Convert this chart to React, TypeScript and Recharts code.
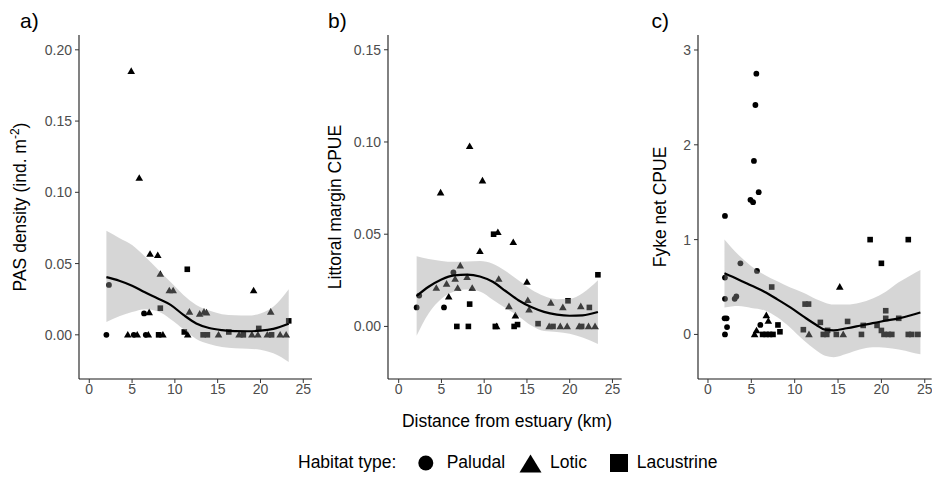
import React from 'react'
import { ComposedChart, Scatter, Area, Line, XAxis, YAxis } from 'recharts'

type Pt = [number, number]

const FONT = '"Liberation Sans", Arial, Helvetica, sans-serif'

// distance ticks shared by all panels
const xTicks = [0, 5, 10, 15, 20, 25]

// a) PAS density (ind. m-2)
const aPaludal: Pt[] = [[2.0, 0], [2.3, 0.035], [5.2, 0], [6.4, 0.015], [6.6, 0]]
const aLotic: Pt[] = [
  [4.5, 0], [4.9, 0.185], [5.6, 0], [5.84, 0.11], [6.9, 0], [7.0, 0.0157], [7.1, 0.0567],
  [8.0, 0.0558], [8.3, 0.0426], [8.6, 0], [9.35, 0.031], [9.8, 0.031], [11.5, 0], [11.7, 0.016],
  [12.9, 0.0146], [13.4, 0.016], [13.7, 0.0155], [15.1, 0], [17.5, 0], [19.0, 0], [19.2, 0.031],
  [19.7, 0], [20.8, 0], [21.2, 0.016], [22.3, 0], [23.0, 0],
]
const aLacustrine: Pt[] = [
  [8.1, 0], [8.3, 0.0187], [11.1, 0.002], [11.45, 0.046], [13.3, 0], [13.8, 0], [16.3, 0.002],
  [18.0, 0], [19.8, 0.0045], [21.3, 0], [23.3, 0.0098],
]
const aSmoothX = [2, 3.5, 5, 6.5, 8, 9.5, 11, 12.5, 14, 15.5, 17, 18.5, 20, 21.5, 23.3]
const aFit = [0.0405, 0.038, 0.0345, 0.0298, 0.0255, 0.021, 0.014, 0.008, 0.0048, 0.0033, 0.0026, 0.0025, 0.0029, 0.0042, 0.0078]
const aLow = [0.009, 0.013, 0.016, 0.018, 0.0165, 0.011, 0.004, -0.003, -0.0065, -0.0085, -0.0095, -0.0098, -0.0105, -0.013, -0.019]
const aHigh = [0.073, 0.068, 0.063, 0.055, 0.046, 0.037, 0.028, 0.021, 0.017, 0.0145, 0.0137, 0.0135, 0.015, 0.0197, 0.032]
const aYTicks = [0, 0.05, 0.1, 0.15, 0.2]

// b) Littoral margin CPUE
const bPaludal: Pt[] = [[2.1, 0.0103], [2.4, 0.0167], [5.3, 0.0103], [6.4, 0.0293]]
const bLotic: Pt[] = [
  [4.4, 0.0208], [4.9, 0.0725], [5.6, 0.023], [5.85, 0.016], [6.6, 0.0257], [6.9, 0.0208],
  [7.2, 0.0329], [8.0, 0.0266], [8.3, 0.0976], [8.6, 0.0208], [9.5, 0.0407], [9.8, 0.079],
  [11.45, 0], [11.6, 0.051], [11.7, 0.0257], [12.9, 0.0108], [13.4, 0.0456], [13.65, 0.0058],
  [15.0, 0.024], [15.1, 0.0141], [15.25, 0.009], [17.6, 0], [17.8, 0.0127], [18.9, 0],
  [19.2, 0.0103], [19.7, 0], [21.1, 0], [21.3, 0.0108], [22.2, 0], [22.96, 0],
]
const bLacustrine: Pt[] = [
  [6.8, 0], [8.15, 0], [8.3, 0.0121], [11.1, 0.05], [11.3, 0], [13.5, 0], [13.9, 0.001],
  [16.3, 0.0015], [18.05, 0], [19.8, 0.0139], [21.4, 0], [22.3, 0.0103], [23.3, 0.028],
]
const bSmoothX = [2.1, 3.5, 5, 6.5, 8, 9.5, 11, 12.5, 14, 15.5, 17, 18.5, 20, 21.5, 23.3]
const bFit = [0.0165, 0.0215, 0.0255, 0.0277, 0.0281, 0.0271, 0.0242, 0.0192, 0.0142, 0.0105, 0.0079, 0.0064, 0.0058, 0.006, 0.0078]
const bLow = [-0.005, 0.007, 0.015, 0.019, 0.02, 0.019, 0.0145, 0.01, 0.0055, 0.0005, -0.0025, -0.003, -0.004, -0.006, -0.0095]
const bHigh = [0.038, 0.0365, 0.0355, 0.035, 0.0352, 0.0355, 0.034, 0.03, 0.025, 0.02, 0.0165, 0.0148, 0.015, 0.018, 0.025]
const bYTicks = [0, 0.05, 0.1, 0.15]

// c) Fyke net CPUE
const cPaludal: Pt[] = [
  [1.96, 1.25], [1.96, 0.6], [1.96, 0.376], [1.92, 0.17], [2.15, 0.17], [2.2, 0.078], [1.96, 0],
  [3.08, 0.376], [3.27, 0.4], [3.74, 0.75], [4.9, 1.42], [5.2, 1.395], [5.3, 1.83], [5.47, 2.42],
  [5.58, 2.75], [5.85, 1.5], [5.65, 0.67], [6.04, 0.1],
]
const cLotic: Pt[] = [[5.38, 0], [5.6, 0.04], [6.73, 0.2], [6.96, 0.14], [11.65, 0], [15.2, 0.5], [15.6, 0]]
const cLacustrine: Pt[] = [
  [6.3, 0], [6.7, 0], [7.1, 0], [7.5, 0], [7.35, 0.5], [8.07, 0.1], [8.3, 0.028], [11.0, 0.05],
  [11.2, 0.32], [11.6, 0.32], [12.96, 0.127], [13.3, 0], [13.7, 0], [13.8, 0.043], [14.8, 0],
  [16.1, 0.137], [17.7, 0], [17.9, 0.095], [18.7, 1.0], [19.5, 0.095], [20.0, 0.75], [20.0, 0.042],
  [20.5, 0.25], [20.5, 0.17], [20.3, 0], [20.8, 0], [21.2, 0], [22.0, 0.17], [23.1, 1.0], [23.1, 0],
  [23.5, 0], [24.2, 0],
]
const cSmoothX = [1.9, 3.5, 5, 6.5, 8, 9.5, 11, 12.5, 13.5, 14.5, 16, 17.5, 19, 20.5, 22, 23.5, 24.5]
const cFit = [0.645, 0.58, 0.515, 0.45, 0.37, 0.285, 0.19, 0.1, 0.05, 0.043, 0.065, 0.092, 0.12, 0.145, 0.17, 0.205, 0.232]
const cLow = [0.285, 0.3, 0.28, 0.255, 0.18, 0.07, -0.06, -0.17, -0.225, -0.24, -0.205, -0.16, -0.135, -0.14, -0.16, -0.19, -0.21]
const cHigh = [1.0, 0.84, 0.72, 0.63, 0.56, 0.495, 0.44, 0.37, 0.335, 0.315, 0.315, 0.335, 0.38, 0.45, 0.55, 0.63, 0.68]
const cYTicks = [0, 1, 2, 3]

const Dot = (p: any) => <circle cx={p.cx} cy={p.cy} r={2.9} fill="#000" />
const Tri = (p: any) => (
  <polygon
    points={`${p.cx - 3.8},${p.cy + 2.7} ${p.cx + 3.8},${p.cy + 2.7} ${p.cx},${p.cy - 3.9}`}
    fill="#000"
  />
)
const Sq = (p: any) => <rect x={p.cx - 2.8} y={p.cy - 2.8} width={5.6} height={5.6} fill="#000" />

const toXY = (pts: Pt[]) => pts.map(([x, y]) => ({ x, y }))

type PanelProps = {
  plotLeft: number
  plotWidth: number
  xDomain: [number, number]
  yDomain: [number, number]
  yTicks: number[]
  fmt: (v: number) => string
  paludal: Pt[]
  lotic: Pt[]
  lacustrine: Pt[]
  smoothX: number[]
  fit: number[]
  low: number[]
  high: number[]
}

const Y_AXIS_W = 70

function Panel(props: PanelProps) {
  const rows = props.smoothX.map((x, i) => ({ x, fit: props.fit[i], band: [props.low[i], props.high[i]] }))
  const tick = { fill: '#4d4d4d', fontSize: 14, fontFamily: FONT }
  return (
    <div style={{ position: 'absolute', left: props.plotLeft - Y_AXIS_W, top: 0 }}>
      <ComposedChart
        width={Y_AXIS_W + props.plotWidth}
        height={419}
        data={rows}
        margin={{ top: 35, right: 0, bottom: 0, left: 0 }}
      >
        <XAxis
          type="number"
          dataKey="x"
          domain={props.xDomain}
          ticks={xTicks}
          interval={0}
          allowDataOverflow
          height={40}
          tick={tick}
          tickSize={4}
          tickMargin={1}
          axisLine={{ stroke: '#1a1a1a', strokeWidth: 1.1 }}
          tickLine={{ stroke: '#333' }}
        />
        <YAxis
          type="number"
          domain={props.yDomain}
          ticks={props.yTicks}
          interval={0}
          allowDataOverflow
          width={Y_AXIS_W}
          tick={tick}
          tickSize={4}
          tickMargin={3}
          tickFormatter={props.fmt}
          axisLine={{ stroke: '#1a1a1a', strokeWidth: 1.1 }}
          tickLine={{ stroke: '#333' }}
        />
        <Scatter data={toXY(props.paludal)} dataKey="y" shape={Dot} isAnimationActive={false} />
        <Scatter data={toXY(props.lotic)} dataKey="y" shape={Tri} isAnimationActive={false} />
        <Scatter data={toXY(props.lacustrine)} dataKey="y" shape={Sq} isAnimationActive={false} />
        <Area
          dataKey="band"
          type="monotone"
          stroke="none"
          fill="#999999"
          fillOpacity={0.4}
          isAnimationActive={false}
          zIndex={700}
        />
        <Line
          dataKey="fit"
          type="monotone"
          stroke="#000"
          strokeWidth={2.2}
          dot={false}
          activeDot={false}
          isAnimationActive={false}
          zIndex={800}
        />
      </ComposedChart>
    </div>
  )
}

const fmt2 = (v: number) => v.toFixed(2)
const fmt0 = (v: number) => String(v)

export default function App() {
  const title = { fontFamily: FONT, fontSize: 17.5, fill: '#000' }
  return (
    <div style={{ position: 'absolute', left: 0, top: 0, width: 932, height: 481, background: '#fff', overflow: 'hidden' }}>
      <Panel
        plotLeft={79}
        plotWidth={233}
        xDomain={[-1.2, 26.02]}
        yDomain={[-0.031, 0.2104]}
        yTicks={aYTicks}
        fmt={fmt2}
        paludal={aPaludal}
        lotic={aLotic}
        lacustrine={aLacustrine}
        smoothX={aSmoothX}
        fit={aFit}
        low={aLow}
        high={aHigh}
      />
      <Panel
        plotLeft={388.3}
        plotWidth={233.7}
        xDomain={[-1.25, 26.08]}
        yDomain={[-0.0285, 0.158]}
        yTicks={bYTicks}
        fmt={fmt2}
        paludal={bPaludal}
        lotic={bLotic}
        lacustrine={bLacustrine}
        smoothX={bSmoothX}
        fit={bFit}
        low={bLow}
        high={bHigh}
      />
      <Panel
        plotLeft={698.3}
        plotWidth={233.7}
        xDomain={[-1.15, 25.8]}
        yDomain={[-0.47, 3.158]}
        yTicks={cYTicks}
        fmt={fmt0}
        paludal={cPaludal}
        lotic={cLotic}
        lacustrine={cLacustrine}
        smoothX={cSmoothX}
        fit={cFit}
        low={cLow}
        high={cHigh}
      />
      <svg
        width={932}
        height={481}
        style={{ position: 'absolute', left: 0, top: 0, pointerEvents: 'none' }}
      >
        <text x={20} y={28} style={{ ...title, fontSize: 21 }} fill="#000">a)</text>
        <text x={328} y={28} style={{ ...title, fontSize: 21 }} fill="#000">b)</text>
        <text x={651.5} y={28} style={{ ...title, fontSize: 21 }} fill="#000">c)</text>

        <text transform="translate(26,207) rotate(-90)" textAnchor="middle" style={title}>
          PAS density (ind. m<tspan dy={-7} fontSize={12}>-2</tspan><tspan dy={7}>)</tspan>
        </text>
        <text transform="translate(341,207) rotate(-90)" textAnchor="middle" style={title}>
          Littoral margin CPUE
        </text>
        <text transform="translate(666,207) rotate(-90)" textAnchor="middle" style={title}>
          Fyke net CPUE
        </text>

        <text x={507} y={427} textAnchor="middle" style={title}>Distance from estuary (km)</text>

        <text x={298} y={468} style={title}>Habitat type:</text>
        <circle cx={425.8} cy={463} r={7.5} fill="#000" />
        <text x={446.7} y={468} style={title}>Paludal</text>
        <polygon points="519.5,472.5 541.5,472.5 530.5,454.5" fill="#000" />
        <text x={550} y={468} style={title}>Lotic</text>
        <rect x={610} y={454} width={18} height={18} fill="#000" />
        <text x={636.7} y={468} style={title}>Lacustrine</text>
      </svg>
    </div>
  )
}
